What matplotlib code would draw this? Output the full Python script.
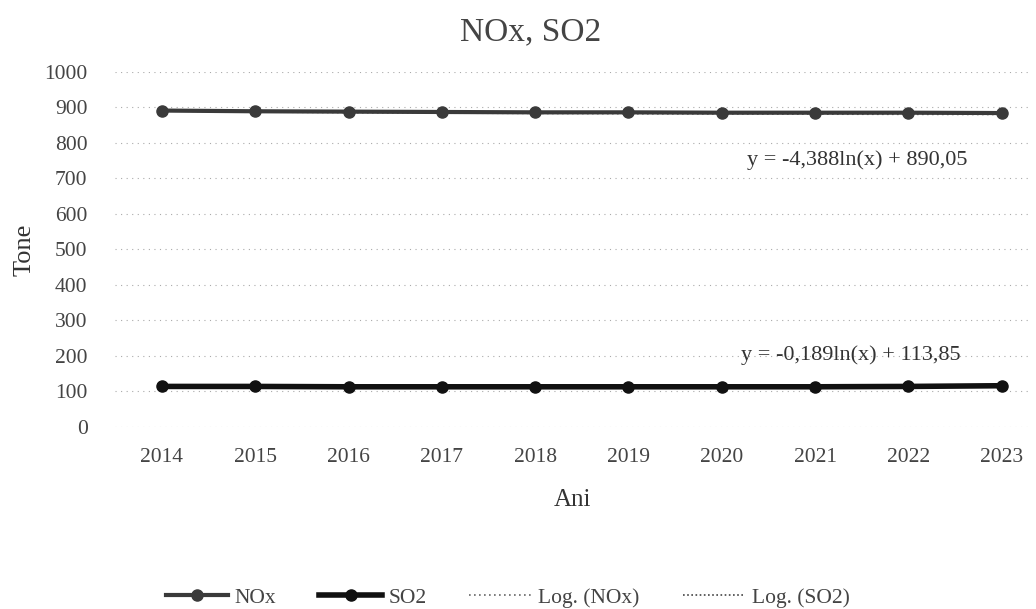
import numpy as np
import matplotlib
matplotlib.use("Agg")
import matplotlib.pyplot as plt

plt.rcParams['font.family'] = ['Liberation Serif', 'DejaVu Serif']

years = ['2014', '2015', '2016', '2017', '2018', '2019', '2020', '2021', '2022', '2023']
nox = [891, 889, 888, 887, 886, 886, 885, 885, 885, 884]
so2 = [114, 114, 113, 113, 113, 113, 113, 113, 114, 116]
nox_fit = (-4.388, 890.05)
so2_fit = (-0.189, 113.85)
nox_eq = 'y = -4,388ln(x) + 890,05'
so2_eq = 'y = -0,189ln(x) + 113,85'
yticks = [0, 100, 200, 300, 400, 500, 600, 700, 800, 900, 1000]

fig = plt.figure(figsize=(10.36, 6.09), dpi=100)
ax = fig.add_axes([0.1113, 0.299, 0.8826, 0.583])

x = np.arange(len(years))
xl = np.arange(1, len(years) + 1)

ax.plot(x, nox, color='#3a3a3a', lw=3, marker='o', ms=8, label='NOx', zorder=3)
ax.plot(x, so2, color='#111111', lw=4, marker='o', ms=8, label='SO2', zorder=3)
ax.plot(x, nox_fit[0] * np.log(xl) + nox_fit[1], color='#666666', lw=1.2,
        ls=(0, (1, 2)), label='Log. (NOx)', zorder=2)
ax.plot(x, so2_fit[0] * np.log(xl) + so2_fit[1], color='#444444', lw=1.2,
        ls=(0, (1, 1.5)), label='Log. (SO2)', zorder=2)

ax.set_xlim(-0.5, 9.3)
ax.set_ylim(0, 1000)
ax.set_yticks(yticks)
ax.set_xticks(x)
ax.set_xticklabels(years)
ax.grid(axis='y', color='#aaaaaa', ls=(0, (1, 4)), lw=0.8)
for s in ax.spines.values():
    s.set_visible(False)
ax.tick_params(length=0, labelsize=15.5, colors='#444444')
ax.tick_params(axis='x', pad=15)
ax.tick_params(axis='y', pad=20)

ax.text(7.45, 752, nox_eq, fontsize=16, color='#333333', ha='center', va='center')
ax.text(7.38, 203, so2_eq, fontsize=16, color='#333333', ha='center', va='center')

ax.set_ylabel('Tone', fontsize=19, color='#333333', labelpad=6)
ax.set_xlabel('Ani', fontsize=18, color='#333333', labelpad=16)
fig.suptitle('NOx, SO2', fontsize=24, color='#444444', x=0.512, y=0.972)

fig.legend(loc='lower center', ncol=4, frameon=False, fontsize=15.5,
           bbox_to_anchor=(0.49, -0.03), handlelength=2.9, handletextpad=0.3,
           columnspacing=2.0, labelcolor='#444444')

fig.savefig('out.png', dpi=100)
